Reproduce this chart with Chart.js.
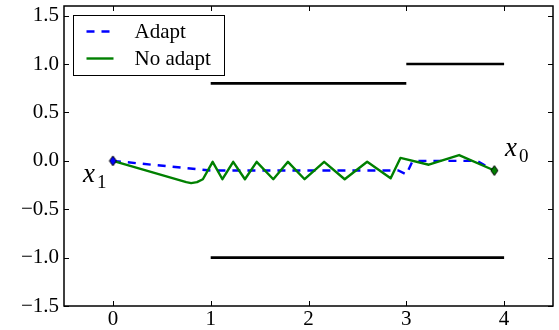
<!DOCTYPE html>
<html><head><meta charset="utf-8">
<script src="https://cdn.jsdelivr.net/npm/chart.js@4.4.1/dist/chart.umd.min.js"></script>
<style>html,body{margin:0;padding:0;background:#fff;}</style>
</head><body>
<canvas id="c" width="559" height="330"></canvas>
<script>
// ---- data ----
const seriesNames = ['Adapt', 'No adapt'];
const adaptX = [0, 1.0, 2.92, 3.0, 3.06, 3.12, 3.72, 3.9];
const adaptY = [0, -0.1, -0.1, -0.14, -0.01, 0.0, 0.0, -0.1];
const noAdaptX = [0, 0.75, 0.80, 0.86, 0.92, 1.02, 1.12, 1.23, 1.35, 1.47, 1.64, 1.79, 1.96, 2.16, 2.37, 2.60, 2.84, 2.94, 3.23, 3.54, 3.9];
const noAdaptY = [0, -0.22, -0.23, -0.22, -0.19, -0.01, -0.19, -0.01, -0.19, -0.01, -0.19, -0.01, -0.19, -0.01, -0.19, -0.01, -0.18, 0.03, -0.04, 0.06, -0.1];
const upperLeftX = [1, 3];
const upperLeftY = [0.8, 0.8];
const upperRightX = [3, 4];
const upperRightY = [1.0, 1.0];
const lowerX = [1, 4];
const lowerY = [-1.0, -1.0];
const xTickValues = [0, 1, 2, 3, 4];
const xTickLabels = ['0', '1', '2', '3', '4'];
const yTickValues = [-1.5, -1.0, -0.5, 0, 0.5, 1.0, 1.5];
const yTickLabels = ['\u22121.5', '\u22121.0', '\u22120.5', '0.0', '0.5', '1.0', '1.5'];
const endpointNames = [{base: 'x', sub: '1'}, {base: 'x', sub: '0'}];

// ---- helpers ----
const pts = (xs, ys) => xs.map((x, i) => ({x: x, y: ys[i]}));
function diamond(fill) {
  const c = document.createElement('canvas');
  c.width = 9; c.height = 12;
  const g = c.getContext('2d');
  g.beginPath();
  g.moveTo(4.5, 1); g.lineTo(8, 6); g.lineTo(4.5, 11); g.lineTo(1, 6); g.closePath();
  g.fillStyle = fill; g.fill();
  g.lineWidth = 1; g.strokeStyle = '#000'; g.stroke();
  return c;
}
const FONT = '"Liberation Serif", "DejaVu Serif", serif';
const BLUE = '#0000ff', GREEN = '#008000';

const overlay = {
  id: 'overlay',
  afterDraw(chart) {
    const {ctx, chartArea: a, scales: {x, y}} = chart;
    ctx.save();
    // frame
    ctx.strokeStyle = '#000';
    ctx.lineWidth = 1.5;
    ctx.strokeRect(a.left, a.top, a.right - a.left, a.bottom - a.top);
    // inward ticks on all sides
    ctx.lineWidth = 1;
    ctx.beginPath();
    xTickValues.forEach(v => {
      const px = Math.round(x.getPixelForValue(v)) + 0.5;
      ctx.moveTo(px, a.bottom); ctx.lineTo(px, a.bottom - 5);
      ctx.moveTo(px, a.top); ctx.lineTo(px, a.top + 5);
    });
    yTickValues.forEach(v => {
      const py = Math.round(y.getPixelForValue(v)) + 0.5;
      ctx.moveTo(a.left, py); ctx.lineTo(a.left + 5, py);
      ctx.moveTo(a.right, py); ctx.lineTo(a.right - 5, py);
    });
    ctx.stroke();

    // legend (inside, upper left), in series order
    const lx = a.left + 9.5, ly = a.top + 9.5, lw = 151, lh = 60;
    ctx.fillStyle = '#fff';
    ctx.fillRect(lx, ly, lw, lh);
    ctx.strokeStyle = '#000'; ctx.lineWidth = 1;
    ctx.strokeRect(lx, ly, lw, lh);
    const legendSets = seriesNames.map(n => chart.data.datasets.find(d => d.label === n));
    legendSets.forEach((d, i) => {
      const ry = ly + 16 + i * 27;
      ctx.beginPath();
      ctx.strokeStyle = d.borderColor;
      ctx.lineWidth = d.borderWidth;
      ctx.setLineDash(d.borderDash || []);
      ctx.moveTo(lx + 13, ry); ctx.lineTo(lx + 40, ry);
      ctx.stroke();
      ctx.setLineDash([]);
      ctx.fillStyle = '#000';
      ctx.font = '21px ' + FONT;
      ctx.textBaseline = 'middle';
      ctx.textAlign = 'left';
      ctx.fillText(d.label, lx + 61, ry + 1);
    });

    // endpoint labels x_1 (start) and x_0 (end)
    const anchors = [
      {dx: adaptX[0] - 0.305, dy: adaptY[0] - 0.22},
      {dx: noAdaptX[noAdaptX.length - 1] + 0.11, dy: noAdaptY[noAdaptY.length - 1] + 0.145}
    ];
    endpointNames.forEach((n, i) => {
      const px = x.getPixelForValue(anchors[i].dx);
      const py = y.getPixelForValue(anchors[i].dy);
      ctx.fillStyle = '#000';
      ctx.textBaseline = 'alphabetic';
      ctx.textAlign = 'left';
      ctx.font = 'italic 27px ' + FONT;
      ctx.fillText(n.base, px, py);
      ctx.font = '19px ' + FONT;
      ctx.fillText(n.sub, px + 14, py + 6);
    });
    ctx.restore();
  }
};

new Chart(document.getElementById('c'), {
  type: 'scatter',
  data: {
    datasets: [
      {label: 'start', data: pts(adaptX, adaptY).slice(0, 1), pointStyle: diamond(BLUE), pointRadius: 5, showLine: false, order: -2},
      {label: 'end', data: pts(noAdaptX, noAdaptY).slice(-1), pointStyle: diamond(GREEN), pointRadius: 5, showLine: false, order: -2},
      {label: seriesNames[1], data: pts(noAdaptX, noAdaptY), showLine: true, borderColor: GREEN, borderWidth: 2.4, pointRadius: 0, order: 0},
      {label: seriesNames[0], data: pts(adaptX, adaptY), showLine: true, borderColor: BLUE, borderWidth: 2.4, borderDash: [8, 7], pointRadius: 0, order: 1},
      {label: 'b1', data: pts(upperLeftX, upperLeftY), showLine: true, borderColor: '#000', borderWidth: 2.6, pointRadius: 0, order: 2},
      {label: 'b2', data: pts(upperRightX, upperRightY), showLine: true, borderColor: '#000', borderWidth: 2.6, pointRadius: 0, order: 2},
      {label: 'b3', data: pts(lowerX, lowerY), showLine: true, borderColor: '#000', borderWidth: 2.6, pointRadius: 0, order: 2}
    ]
  },
  options: {
    responsive: false,
    animation: false,
    devicePixelRatio: 1,
    layout: {padding: {top: 3, right: 5, left: 0, bottom: 0}},
    plugins: {legend: {display: false}, tooltip: {enabled: false}},
    elements: {line: {tension: 0, borderCapStyle: 'butt', borderJoinStyle: 'round'}},
    scales: {
      x: {
        type: 'linear', min: -0.5, max: 4.5,
        grid: {display: false, drawTicks: false}, border: {display: false},
        ticks: {autoSkip: false, padding: 1, color: '#000', font: {family: FONT, size: 21},
          callback: v => xTickLabels[xTickValues.indexOf(v)]},
        afterBuildTicks: s => { s.ticks = xTickValues.map(v => ({value: v})); },
        afterFit: s => { s.height = 24; s.paddingLeft = 0; s.paddingRight = 0; }
      },
      y: {
        type: 'linear', min: -1.5, max: 1.6,
        grid: {display: false, drawTicks: false}, border: {display: false},
        ticks: {autoSkip: false, padding: 5, color: '#000', font: {family: FONT, size: 21},
          callback: v => yTickLabels[yTickValues.indexOf(v)]},
        afterBuildTicks: s => { s.ticks = yTickValues.map(v => ({value: v})); },
        afterFit: s => { s.width = 64; s.paddingTop = 0; s.paddingBottom = 0; }
      }
    }
  },
  plugins: [overlay]
});
</script>
</body></html>
